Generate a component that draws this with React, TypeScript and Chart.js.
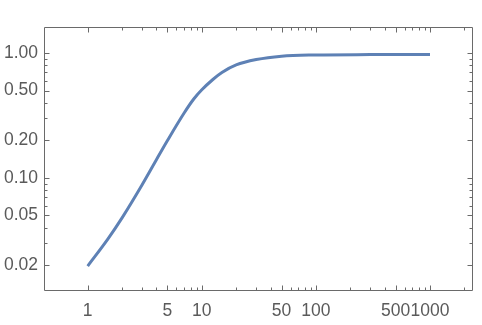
import React, { useEffect, useRef } from "react";
import { Chart, registerables } from "chart.js";

Chart.register(...registerables);

const xValues = [1, 1.5, 2, 3, 4, 5, 7, 8.5, 10, 12.5, 15, 20, 30, 50, 100, 300, 1000];
const yValues = [0.01965, 0.0323, 0.0478, 0.0881, 0.1396, 0.199, 0.3306, 0.4279, 0.5071, 0.6133, 0.6978, 0.8016, 0.8854, 0.9427, 0.9638, 0.9709, 0.9727];

const xMajorTicks = [1, 5, 10, 50, 100, 500, 1000];
const xMinorTicks = [2, 3, 4, 6, 7, 8, 9, 20, 30, 40, 60, 70, 80, 90, 200, 300, 400, 600, 700, 800, 900, 2000];
const yMajorTicks = [0.02, 0.05, 0.1, 0.2, 0.5, 1];
const yMinorTicks = [0.03, 0.04, 0.06, 0.07, 0.08, 0.09, 0.3, 0.4, 0.6, 0.7, 0.8, 0.9];

const FRAME = "#6a6a6a";
const TEXT = "#5a5a5a";
const LINE = "#5e81b5";

const framePlugin = {
  id: "mmaFrame",
  afterDraw(chart: any) {
    const { ctx, chartArea } = chart;
    const xs = chart.scales.x;
    const ys = chart.scales.y;
    const l = Math.round(chartArea.left) + 0.5;
    const r = Math.round(chartArea.right) - 0.5;
    const t = Math.round(chartArea.top) + 0.5;
    const b = Math.round(chartArea.bottom) - 0.5;
    ctx.save();
    ctx.strokeStyle = FRAME;
    ctx.lineWidth = 1;
    ctx.beginPath();
    ctx.rect(l, t, r - l, b - t);
    ctx.stroke();
    const drawX = (vals: number[], len: number) => {
      vals.forEach((v) => {
        const px = Math.round(xs.getPixelForValue(v)) + 0.5;
        ctx.beginPath();
        ctx.moveTo(px, b);
        ctx.lineTo(px, b - len);
        ctx.moveTo(px, t);
        ctx.lineTo(px, t + len);
        ctx.stroke();
      });
    };
    const drawY = (vals: number[], len: number) => {
      vals.forEach((v) => {
        const py = Math.round(ys.getPixelForValue(v)) + 0.5;
        ctx.beginPath();
        ctx.moveTo(l, py);
        ctx.lineTo(l + len, py);
        ctx.moveTo(r, py);
        ctx.lineTo(r - len, py);
        ctx.stroke();
      });
    };
    drawX(xMajorTicks, 5);
    drawX(xMinorTicks, 3);
    drawY(yMajorTicks, 5);
    drawY(yMinorTicks, 3);
    ctx.restore();
  },
};

export default function App() {
  const ref = useRef<HTMLCanvasElement | null>(null);
  useEffect(() => {
    if (!ref.current) return;
    const chart = new Chart(ref.current, {
      type: "line",
      data: {
        datasets: [
          {
            data: xValues.map((x, i) => ({ x, y: yValues[i] })),
            borderColor: LINE,
            borderWidth: 3,
            pointRadius: 0,
            cubicInterpolationMode: "monotone",
            fill: false,
          },
        ],
      },
      options: {
        responsive: false,
        animation: false,
        layout: { padding: { top: 27, right: 9, left: 0, bottom: 0 } },
        plugins: { legend: { display: false }, tooltip: { enabled: false } },
        scales: {
          x: {
            type: "logarithmic",
            min: 0.414,
            max: 2380,
            grid: { display: false, drawTicks: false },
            border: { display: false },
            afterBuildTicks: (s: any) => {
              s.ticks = xMajorTicks.map((v) => ({ value: v }));
            },
            afterFit: (s: any) => {
              s.height = 34;
            },
            ticks: {
              autoSkip: false,
              maxRotation: 0,
              padding: 10,
              color: TEXT,
              font: { family: "'Liberation Sans', Arial, sans-serif", size: 17.5 },
              callback: (v: any) => String(v),
            },
          },
          y: {
            type: "logarithmic",
            min: 0.0124,
            max: 1.615,
            grid: { display: false, drawTicks: false },
            border: { display: false },
            afterBuildTicks: (s: any) => {
              s.ticks = yMajorTicks.map((v) => ({ value: v }));
            },
            afterFit: (s: any) => {
              s.width = 44;
            },
            ticks: {
              autoSkip: false,
              padding: 6,
              color: TEXT,
              font: { family: "'Liberation Sans', Arial, sans-serif", size: 17.5 },
              callback: (v: any) => Number(v).toFixed(2),
            },
          },
        },
      },
      plugins: [framePlugin],
    } as any);
    return () => chart.destroy();
  }, []);
  return (
    <div style={{ position: "fixed", left: 0, top: 0, width: 482, height: 325, background: "#fff" }}>
      <canvas ref={ref} width={482} height={325} />
    </div>
  );
}
